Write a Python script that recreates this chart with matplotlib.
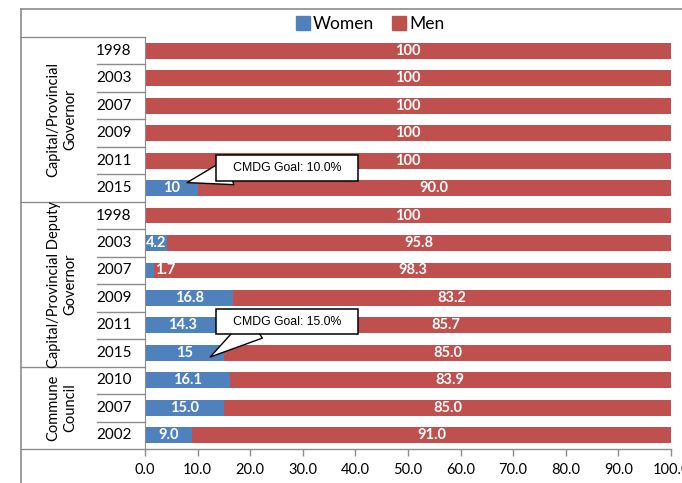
import matplotlib
matplotlib.use("Agg")
import matplotlib.pyplot as plt
import numpy as np
from matplotlib.lines import Line2D
from matplotlib.patches import Patch

plt.rcParams['font.family'] = ['Lato', 'DejaVu Sans']

# data, top row first
years = ['1998', '2003', '2007', '2009', '2011', '2015',
         '1998', '2003', '2007', '2009', '2011', '2015',
         '2010', '2007', '2002']
groups = ['Capital/Provincial\nGovernor',
          'Capital/Provincial Deputy\nGovernor',
          'Commune\nCouncil']
group_sizes = [6, 6, 3]
women = [0, 0, 0, 0, 0, 10, 0, 4.2, 1.7, 16.8, 14.3, 15, 16.1, 15.0, 9.0]
men = [100, 100, 100, 100, 100, 90.0, 100, 95.8, 98.3, 83.2, 85.7, 85.0, 83.9, 85.0, 91.0]
women_labels = ['', '', '', '', '', '10', '', '4.2', '1.7', '16.8', '14.3', '15',
                '16.1', '15.0', '9.0']
men_labels = ['100', '100', '100', '100', '100', '90.0', '100', '95.8', '98.3',
              '83.2', '85.7', '85.0', '83.9', '85.0', '91.0']
xticks = [0, 10, 20, 30, 40, 50, 60, 70, 80, 90, 100]
goals = ['CMDG Goal: 10.0%', 'CMDG Goal: 15.0%']

BLUE = '#4F81BD'
RED = '#C0504D'
GRAY = '#8c8c8c'

W, H = 682, 483
fig = plt.figure(figsize=(W / 100, H / 100), dpi=100)
ax = fig.add_axes([145 / W, 1 - 449 / H, (671 - 145) / W, (449 - 37) / H])

women = np.array(women)
men = np.array(men)
pos = np.arange(len(years))

ax.barh(pos, women, height=0.58, color=BLUE)
ax.barh(pos, men, left=women, height=0.58, color=RED)

# bar labels (tiny segments get their label nudged right, as in the original)
for i in pos:
    if women_labels[i]:
        wx = women[i] / 2 if women[i] > 2 else 3.8
        ax.text(wx, i, women_labels[i], ha='center', va='center',
                color='white', fontsize=10.5, fontweight='bold')
    ax.text(women[i] + men[i] / 2, i, men_labels[i], ha='center', va='center',
            color='white', fontsize=10.5, fontweight='bold')

ax.set_xlim(0, 100)
ax.set_ylim(len(years) - 0.5, -0.5)
ax.set_xticks(xticks)
ax.set_xticklabels([f'{t:.1f}' for t in xticks], fontsize=10.5)
ax.set_yticks([])
ax.tick_params(axis='x', direction='out', length=5, color=GRAY, width=1, pad=5)
for s in ['top', 'right', 'bottom']:
    ax.spines[s].set_visible(False)
ax.spines['left'].set_color(GRAY)

# category table
tr = ax.get_yaxis_transform()
yr_left = -48 / 526
gr_left = -124 / 526
ax.add_line(Line2D([gr_left, 1], [0, 0], transform=ax.transAxes, color=GRAY,
                   lw=1, clip_on=False))
start = 0
for name, n in zip(groups, group_sizes):
    ax.add_line(Line2D([gr_left, 0], [start - 0.5] * 2, transform=tr, color=GRAY,
                       lw=1, clip_on=False))
    for k in range(1, n):
        ax.add_line(Line2D([yr_left, 0], [start + k - 0.5] * 2, transform=tr,
                           color=GRAY, lw=1, clip_on=False))
    ax.text(-83 / 526, start + (n - 1) / 2, name, transform=tr, rotation=90,
            ha='center', va='center', fontsize=10.5, linespacing=1.25,
            multialignment='center')
    start += n
for i, y in enumerate(years):
    ax.text(-31 / 526, i, y, transform=tr, ha='center', va='center', fontsize=11)

# callouts
callouts = [(goals[0], (8.0, 4.8), (27, 4.27), (0.06, 0.2)),
            (goals[1], (12.4, 11.15), (27, 9.86), (0.25, 0.05))]
for goal, tip, box, rel in callouts:
    ax.annotate('   ' + goal + '   ', xy=tip, xytext=box,
                ha='center', va='center', fontsize=8.8, family='Liberation Sans',
                bbox=dict(boxstyle='square,pad=0.55', fc='white', ec='black', lw=1.1),
                arrowprops=dict(arrowstyle='wedge,tail_width=2.2', fc='white',
                                ec='black', lw=1, shrinkA=0, shrinkB=0,
                                patchA=None, relpos=rel))

# chart frame
fig.add_artist(Line2D([21 / W, 1], [1 - 9 / H] * 2, transform=fig.transFigure,
                      color=GRAY, lw=1.2))
fig.add_artist(Line2D([21 / W] * 2, [0, 1 - 9 / H], transform=fig.transFigure,
                      color=GRAY, lw=1.2))

handles = [Patch(color=BLUE, label='Women'), Patch(color=RED, label='Men')]
fig.legend(handles=handles, loc='center', bbox_to_anchor=(370 / W, 1 - 24 / H),
           ncol=2, frameon=False, fontsize=12.5, handlelength=0.8, handleheight=0.8,
           handletextpad=0.2, columnspacing=1.0)

fig.savefig('out.png', dpi=100)
